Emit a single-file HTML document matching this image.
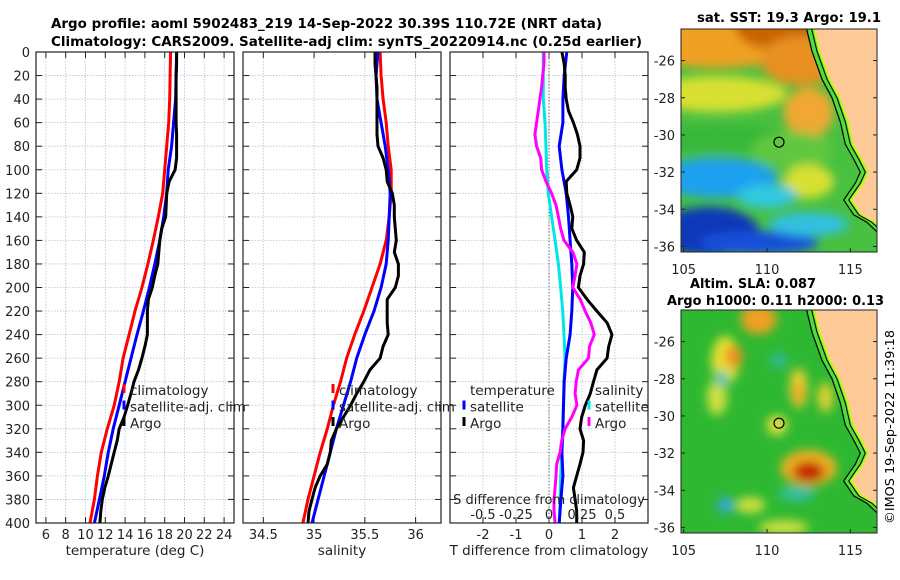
<!DOCTYPE html>
<html><head><meta charset="utf-8"><style>
html,body{margin:0;padding:0;background:#fff}
svg{display:block;font-family:"DejaVu Sans","Liberation Sans",sans-serif}
</style></head><body>
<svg id="fig" width="900" height="580" viewBox="0 0 900 580" xmlns="http://www.w3.org/2000/svg">
<defs>
<filter id="blur1" x="-20%" y="-20%" width="140%" height="140%"><feGaussianBlur stdDeviation="5"/></filter>
<clipPath id="clipTop"><rect x="681" y="29" width="196" height="223"/></clipPath>
<clipPath id="clipBot"><rect x="681" y="310" width="196" height="223"/></clipPath>
</defs>
<text x="51" y="28" font-size="13" font-weight="bold" textLength="551" lengthAdjust="spacingAndGlyphs">Argo profile: aoml 5902483_219 14-Sep-2022 30.39S 110.72E (NRT data)</text>
<text x="51" y="46" font-size="13" font-weight="bold" textLength="591" lengthAdjust="spacingAndGlyphs">Climatology: CARS2009. Satellite-adj clim: synTS_20220914.nc (0.25d earlier)</text>
<text x="697" y="22" font-size="13" font-weight="bold" textLength="184" lengthAdjust="spacingAndGlyphs">sat. SST: 19.3 Argo: 19.1</text>
<text x="690" y="288" font-size="13" font-weight="bold" textLength="126" lengthAdjust="spacingAndGlyphs">Altim. SLA: 0.087</text>
<text x="667" y="305" font-size="13" font-weight="bold" textLength="217" lengthAdjust="spacingAndGlyphs">Argo h1000: 0.11 h2000: 0.13</text>
<text transform="translate(894,524) rotate(-90)" font-size="12" textLength="194" lengthAdjust="spacingAndGlyphs">©IMOS 19-Sep-2022 11:39:18</text>
<g id="g"></g>
</svg>
<script>
// ---------- data ----------
const depths20 = [0,20,40,60,80,100,120,140,160,180,200,220,240,260,280,300,320,340,360,380,400];
const depths10 = [0,10,20,30,40,50,60,70,80,90,100,110,120,130,140,150,160,170,180,190,200,210,220,230,240,250,260,270,280,290,300,310,320,330,340,350,360,370,380,390,400];
const tempClim = [18.6,18.55,18.5,18.4,18.2,18.0,17.8,17.35,16.85,16.3,15.7,15.0,14.4,13.8,13.4,12.9,12.2,11.6,11.2,10.9,10.45];
const tempSat = [19.2,19.15,19.1,18.9,18.7,18.35,18.2,17.9,17.5,17.0,16.45,15.85,15.2,14.6,14.0,13.4,12.8,12.3,11.9,11.4,10.9];
const tempArgo = [19.2,19.2,19.15,19.15,19.15,19.15,19.15,19.2,19.2,19.2,19.05,18.45,18.2,18.15,18.1,17.7,17.5,17.4,17.3,17.0,16.75,16.35,16.25,16.25,16.25,16.0,15.7,15.35,14.9,14.6,14.25,13.9,13.4,13.2,12.9,12.6,12.3,11.95,11.7,11.55,11.45];
const salClim = [35.65,35.66,35.68,35.71,35.73,35.76,35.76,35.74,35.71,35.65,35.57,35.49,35.4,35.32,35.26,35.19,35.13,35.06,35.0,34.94,34.89];
const salSat = [35.63,35.61,35.62,35.66,35.7,35.73,35.75,35.74,35.73,35.71,35.66,35.59,35.5,35.42,35.36,35.29,35.22,35.16,35.1,35.04,34.98];
const salArgo = [35.6,35.6,35.61,35.62,35.62,35.62,35.62,35.62,35.63,35.68,35.71,35.72,35.77,35.79,35.79,35.8,35.81,35.79,35.83,35.83,35.8,35.72,35.72,35.72,35.73,35.68,35.65,35.55,35.49,35.42,35.36,35.29,35.22,35.17,35.16,35.13,35.06,35.01,34.98,34.95,34.94];
const tDiffSat = [0.54,0.46,0.42,0.42,0.31,0.39,0.52,0.59,0.64,0.69,0.72,0.69,0.64,0.52,0.46,0.44,0.42,0.39,0.42,0.36,0.31];
const tDiffArgo = [0.39,0.46,0.49,0.49,0.52,0.59,0.74,0.86,0.94,0.94,0.84,0.52,0.54,0.64,0.72,0.69,0.84,1.07,1.05,0.94,0.89,1.15,1.45,1.76,1.91,1.81,1.76,1.45,1.35,1.25,1.1,0.99,0.94,1.05,1.03,0.94,0.84,0.74,0.79,0.84,0.84];
const sDiffSat = [-0.043,-0.043,-0.043,-0.03,-0.023,-0.018,-0.005,0.02,0.046,0.071,0.089,0.104,0.114,0.122,0.114,0.109,0.104,0.096,0.089,0.084,0.079];
const sDiffArgo = [-0.038,-0.038,-0.048,-0.056,-0.069,-0.081,-0.094,-0.107,-0.094,-0.063,-0.056,-0.023,0.02,0.053,0.071,0.089,0.114,0.18,0.211,0.198,0.18,0.236,0.274,0.317,0.343,0.307,0.299,0.223,0.206,0.198,0.211,0.173,0.122,0.096,0.084,0.058,0.053,0.046,0.038,0.038,0.046];
const depthTicks = [0,20,40,60,80,100,120,140,160,180,200,220,240,260,280,300,320,340,360,380,400];
const tempTicks = [6,8,10,12,14,16,18,20,22,24];
const salTicks = [34.5,35,35.5,36];
const tDiffTicks = [-2,-1,0,1,2];
const sDiffTicks = [-0.5,-0.25,0,0.25,0.5];
const sDiffTickLabels = ["-0.5","-0.25","0","0.25","0.5"];
const lonTicks = [105,110,115];
const latTicks = [-26,-28,-30,-32,-34,-36];
const argoLon = 110.72, argoLat = -30.39;

// ---------- helpers ----------
const NS = "http://www.w3.org/2000/svg";
const G = document.getElementById('g');
function mk(tag, attrs, parent){ const e=document.createElementNS(NS,tag); for(const k in attrs) e.setAttribute(k,attrs[k]); (parent||G).appendChild(e); return e; }
const top0=52, bot0=523;
const yD = d => top0 + (d/400)*(bot0-top0);
function lin(d0,d1,r0,r1){ return v => r0 + (v-d0)/(d1-d0)*(r1-r0); }

const panels = [
 {name:'temperature', x0:36, x1:234, f:lin(5,25,36,234), ticks:tempTicks, labels:tempTicks.map(String), xlabel:'temperature (deg C)'},
 {name:'salinity', x0:243, x1:441, f:lin(34.3,36.25,243,441), ticks:salTicks, labels:salTicks.map(String), xlabel:'salinity'},
 {name:'difference', x0:450, x1:648, f:lin(-3,3,450,648), ticks:tDiffTicks, labels:tDiffTicks.map(String), xlabel:'T difference from climatology'}
];

panels.forEach((p,pi)=>{
  const pg = mk('g',{});
  
  
  depthTicks.forEach(d=>{
    const l=mk('line',{x1:p.x0,x2:p.x1,y1:yD(d),y2:yD(d),stroke:'#b8c0dc','stroke-width':0.8,'stroke-dasharray':'1.5,1.5'},pg);
    
    
    mk('line',{x1:p.x0,x2:p.x0+6,y1:yD(d),y2:yD(d),stroke:'#222','stroke-width':1},pg);
    mk('line',{x1:p.x1-6,x2:p.x1,y1:yD(d),y2:yD(d),stroke:'#222','stroke-width':1},pg);
  });
  p.ticks.forEach((v,i)=>{
    const x=p.f(v);
    const l=mk('line',{x1:x,x2:x,y1:top0,y2:bot0,stroke:'#b8c0dc','stroke-width':0.8,'stroke-dasharray':'1.5,1.5'},pg);
    
    
    mk('line',{x1:x,x2:x,y1:bot0-6,y2:bot0,stroke:'#222','stroke-width':1},pg);
    mk('line',{x1:x,x2:x,y1:top0,y2:top0+6,stroke:'#222','stroke-width':1},pg);
    const t=mk('text',{x:x,y:539,'font-size':13,'text-anchor':'middle',fill:'#222'},pg);
    t.textContent=p.labels[i];
    
    
  });
  const xl=mk('text',{x:(p.x0+p.x1)/2,y:555,'font-size':13.5,'text-anchor':'middle',fill:'#222'},pg);
  xl.textContent=p.xlabel;
  
  
});
depthTicks.forEach(d=>{
  const t=mk('text',{x:30,y:yD(d)+5,'font-size':13,'text-anchor':'end',fill:'#222'});
  t.textContent=String(d);
  
  
});
const zl=mk('line',{x1:panels[2].f(0),x2:panels[2].f(0),y1:top0,y2:bot0,stroke:'#555','stroke-width':1,'stroke-dasharray':'1.2,2'});



function series(xs, ds, fx, color, name){
  const pts = xs.map((v,i)=>fx(v).toFixed(1)+','+yD(ds[i]).toFixed(1)).join(' ');
  const pl=mk('polyline',{points:pts,fill:'none',stroke:color,'stroke-width':3,'stroke-linejoin':'round'});
  
  
}
const fT=panels[0].f, fS=panels[1].f, fD=panels[2].f, fSD = v=>fD(v*4);
series(tempClim,depths20,fT,'#ff0000','temp-climatology-line');
series(tempSat,depths20,fT,'#0000ff','temp-satellite-line');
series(tempArgo,depths10,fT,'#000000','temp-argo-line');
series(salClim,depths20,fS,'#ff0000','sal-climatology-line');
series(salSat,depths20,fS,'#0000ff','sal-satellite-line');
series(salArgo,depths10,fS,'#000000','sal-argo-line');
series(sDiffSat,depths20,fSD,'#00e5e5','sdiff-satellite-line');
series(tDiffSat,depths20,fD,'#0000ff','tdiff-satellite-line');
series(sDiffArgo,depths10,fSD,'#ff00ff','sdiff-argo-line');
series(tDiffArgo,depths10,fD,'#000000','tdiff-argo-line');

const sdt=mk('text',{x:549,y:504,'font-size':13,'text-anchor':'middle',fill:'#222'});
sdt.textContent='S difference from climatology';


sDiffTicks.forEach((v,i)=>{
  const t=mk('text',{x:fSD(v),y:519,'font-size':13,'text-anchor':'middle',fill:'#222'});
  t.textContent=sDiffTickLabels[i];
  
  
});
panels.forEach(p=>{
  const r=mk('rect',{x:p.x0,y:top0,width:p.x1-p.x0,height:bot0-top0,fill:'none',stroke:'#222','stroke-width':1.2});
  
  
});

function legend(x, y0, items, name){
  const lg=mk('g',{});
  
  
  items.forEach((it,i)=>{
    const y=y0+i*16.5;
    if(it.c) mk('line',{x1:x-6,x2:x-6,y1:y-11,y2:y-2,stroke:it.c,'stroke-width':3},lg);
    const t=mk('text',{x:x,y:y,'font-size':13.5,fill:'#222'},lg);
    t.textContent=it.t;
    
    
  });
}
const L3=[{t:'climatology',c:'#ff0000'},{t:'satellite-adj. clim',c:'#0000ff'},{t:'Argo',c:'#000'}];
legend(130,395,L3,'temp-legend');
legend(339,395,L3,'sal-legend');
legend(470,395,[{t:'temperature'},{t:'satellite',c:'#0000ff'},{t:'Argo',c:'#000'}],'tdiff-legend');
legend(595,395,[{t:'salinity'},{t:'satellite',c:'#00e5e5'},{t:'Argo',c:'#ff00ff'}],'sdiff-legend');

// ---------- maps ----------
const coastLonLat=[[112.3,-24.0],[112.7,-25.5],[113.3,-27],[113.9,-28],[114.4,-29.3],[114.7,-30.5],[115.2,-31.3],[115.6,-32],[115.3,-32.6],[114.6,-33.5],[115.2,-34.3],[116,-34.7],[116.7,-35.3]];
function mapAxes(y0, y1, latTop, latBot, clipId, name, blobs, bg){
  const mx=lin(104.84,116.6,681,877), my=lin(latTop,latBot,y0,y1);
  const mg=mk('g',{});
  
  
  const inner=mk('g',{'clip-path':'url(#'+clipId+')'},mg);
  mk('rect',{x:681,y:y0,width:196,height:y1-y0,fill:bg},inner);
  const bg2=mk('g',{filter:'url(#blur1)'},inner);
  blobs.forEach(b=>{ mk('ellipse',{cx:mx(b[0]),cy:my(b[1]),rx:b[2],ry:b[3],fill:b[4]},bg2); });
  const cs=coastLonLat.map(c=>mx(c[0]).toFixed(1)+','+my(c[1]).toFixed(1));
  const inland=coastLonLat.map(c=>mx(c[0]+0.45).toFixed(1)+','+my(c[1]).toFixed(1));
  mk('polygon',{points:cs.join(' ')+' '+inland.slice().reverse().join(' '),fill:'#50dc3c'},inner);
  const land=mk('polygon',{points:inland.join(' ')+' 877,'+my(-35.3)+' 877,'+(y0-5),fill:'#fdca98'},inner);
  
  
  mk('polyline',{points:inland.join(' '),fill:'none',stroke:'#d0f020','stroke-width':2},inner);
  mk('polyline',{points:cs.join(' '),fill:'none',stroke:'#000','stroke-width':1.2},inner);
  const c2=coastLonLat.map(c=>mx(c[0]+0.3).toFixed(1)+','+my(c[1]).toFixed(1));
  mk('polyline',{points:c2.join(' '),fill:'none',stroke:'#000','stroke-width':1},inner);
  const pc=mk('circle',{cx:mx(argoLon),cy:my(argoLat),r:5,fill:'none',stroke:'#000','stroke-width':1.2},mg);
  
  
  mk('rect',{x:681,y:y0,width:196,height:y1-y0,fill:'none',stroke:'#222','stroke-width':1},mg);
  lonTicks.forEach(v=>{
    mk('line',{x1:mx(v),x2:mx(v),y1:y1-4,y2:y1,stroke:'#222'},mg);
    const t=mk('text',{x:mx(v),y:y1+22,'font-size':13,'text-anchor':'middle',fill:'#222'},mg);
    t.textContent=String(v);
    
    
  });
  latTicks.forEach(v=>{
    mk('line',{x1:681,x2:685,y1:my(v),y2:my(v),stroke:'#222'},mg);
    mk('line',{x1:873,x2:877,y1:my(v),y2:my(v),stroke:'#222'},mg);
    const t=mk('text',{x:675,y:my(v)+5,'font-size':13,'text-anchor':'end',fill:'#222'},mg);
    t.textContent=String(v);
    
    
  });
}
mapAxes(29,252,-24.3,-36.3,'clipTop','sst-map',[
  [107,-24.8,90,30,'#f0a020'],[110.5,-24.2,40,22,'#c86400'],[112,-26,40,25,'#e89020'],
  [107,-27.8,70,18,'#d8e030'],[112.5,-28.8,25,25,'#f0a830'],
  [107,-30.2,80,14,'#38b838'],[111.5,-30.8,40,18,'#60c840'],
  [107,-32.3,60,20,'#1aa0f0'],[112.5,-32.5,25,17,'#d8e030'],[110,-33.3,30,12,'#30c8e0'],
  [106.5,-35.2,50,25,'#0838b8'],[109.5,-35.8,60,12,'#1850d8'],[112.5,-34.8,40,12,'#30c0e0']
],'#48c040');
mapAxes(310,533,-24.3,-36.3,'clipBot','sla-map',[
  [109.5,-24.8,18,15,'#f0a020'],[107.5,-27,14,24,'#e8e030'],[108,-26.8,9,11,'#f09020'],
  [107,-29,10,18,'#d0e040'],[107.3,-28,6,8,'#30c0c0'],[110.7,-27,8,8,'#30b898'],
  [111.9,-28.5,9,20,'#e8d030'],[111.9,-28.8,5,10,'#f0a020'],[110.6,-30.5,10,10,'#e8e040'],[113.5,-29,8,15,'#e0d030'],
  [112.5,-32.8,28,18,'#f0b020'],[112.5,-33,16,10,'#c02000'],
  [107.5,-34.8,8,8,'#30a8e0'],[111.8,-34.2,18,6,'#30c0b8'],[109,-34.8,15,8,'#d0e040'],[111,-36,25,7,'#d8e040']
],'#2eb832');
</script>
</body></html>
